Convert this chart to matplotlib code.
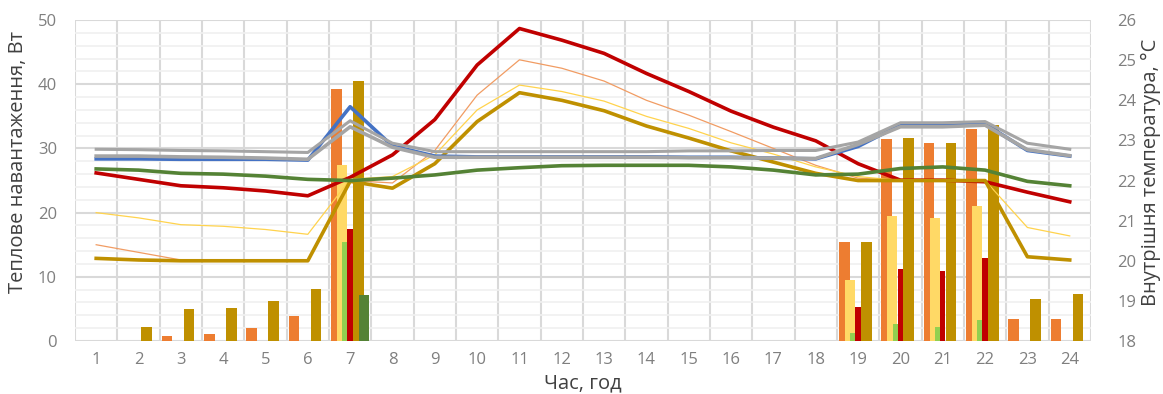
import matplotlib
matplotlib.use('Agg')
import matplotlib.pyplot as plt
import numpy as np

plt.rcParams['font.family'] = ['Open Sans', 'DejaVu Sans']

hours = list(range(1, 25))

# heat loads, W (left axis)
bar_orange = [0, 0, 0.8, 1.1, 2.0, 3.9, 39.2, 0, 0, 0, 0, 0, 0, 0, 0, 0, 0, 0, 15.4, 31.4, 30.8, 33.0, 3.4, 3.5]
bar_yellow = [0, 0, 0, 0, 0, 0, 27.4, 0, 0, 0, 0, 0, 0, 0, 0, 0, 0, 0, 9.5, 19.5, 19.1, 21.0, 0, 0]
bar_lgreen = [0, 0, 0, 0, 0, 0, 15.4, 0, 0, 0, 0, 0, 0, 0, 0, 0, 0, 0, 1.2, 2.6, 2.2, 3.3, 0, 0]
bar_red = [0, 0, 0, 0, 0, 0, 17.4, 0, 0, 0, 0, 0, 0, 0, 0, 0, 0, 0, 5.3, 11.2, 10.9, 12.9, 0, 0]
bar_gold = [0, 2.2, 5.0, 5.2, 6.2, 8.1, 40.5, 0, 0, 0, 0, 0, 0, 0, 0, 0, 0, 0, 15.5, 31.6, 30.9, 33.6, 6.5, 7.3]
bar_dgreen = [0, 0, 0, 0, 0, 0, 7.2, 0, 0, 0, 0, 0, 0, 0, 0, 0, 0, 0, 0, 0, 0, 0, 0, 0]

# internal temperature, C (right axis)
t_red = [22.19, 22.03, 21.87, 21.82, 21.74, 21.62, 22.08, 22.64, 23.52, 24.88, 25.79, 25.50,
         25.17, 24.67, 24.22, 23.73, 23.33, 22.99, 22.42, 22.01, 22.01, 21.97, 21.71, 21.47]
t_orange = [20.40, 20.21, 20.02, 20.0, 20.0, 20.0, 22.0, 21.94, 22.75, 24.13, 25.01, 24.80,
            24.48, 24.00, 23.63, 23.22, 22.80, 22.38, 22.06, 22.0, 22.0, 22.0, 20.10, 20.02]
t_yellow = [21.20, 21.07, 20.90, 20.86, 20.78, 20.66, 22.03, 22.10, 22.64, 23.76, 24.38, 24.22,
            23.98, 23.60, 23.30, 22.94, 22.66, 22.34, 22.10, 22.0, 22.0, 22.0, 20.83, 20.62]
t_gold = [20.06, 20.02, 20.0, 20.0, 20.0, 20.0, 21.98, 21.81, 22.42, 23.47, 24.19, 24.00,
          23.74, 23.36, 23.06, 22.74, 22.46, 22.18, 22.0, 22.0, 22.0, 22.0, 20.10, 20.02]
t_green = [22.29, 22.26, 22.18, 22.16, 22.11, 22.03, 22.00, 22.06, 22.14, 22.26, 22.32, 22.37,
           22.38, 22.38, 22.38, 22.34, 22.26, 22.14, 22.16, 22.30, 22.34, 22.26, 21.98, 21.87]
t_blue = [22.54, 22.54, 22.53, 22.53, 22.53, 22.51, 23.84, 22.86, 22.61, 22.59, 22.59, 22.59,
          22.59, 22.59, 22.58, 22.58, 22.56, 22.54, 22.85, 23.39, 23.38, 23.41, 22.75, 22.61]
t_gray1 = [22.78, 22.77, 22.75, 22.74, 22.72, 22.70, 23.49, 22.93, 22.72, 22.72, 22.72, 22.72,
           22.72, 22.72, 22.74, 22.74, 22.75, 22.75, 22.96, 23.44, 23.44, 23.47, 22.93, 22.78]
t_gray2 = [22.61, 22.61, 22.59, 22.58, 22.56, 22.53, 23.34, 22.83, 22.58, 22.58, 22.58, 22.58,
           22.58, 22.58, 22.57, 22.57, 22.56, 22.55, 22.90, 23.34, 23.34, 23.38, 22.77, 22.62]

x = np.array(hours)

fig = plt.figure(figsize=(11.63, 3.94), dpi=100)
ax = fig.add_axes([0.0645, 0.1345, 0.8735, 0.8145])

ax.bar(x - 0.325, bar_orange, 0.25, color='#ED7D31', zorder=2)
ax.bar(x - 0.19, bar_yellow, 0.24, color='#FFD966', zorder=2)
ax.bar(x - 0.125, bar_lgreen, 0.12, color='#92D050', zorder=2)
ax.bar(x + 0.0, bar_red, 0.13, color='#C00000', zorder=2)
ax.bar(x + 0.195, bar_gold, 0.25, color='#BF9000', zorder=2)
ax.bar(x + 0.325, bar_dgreen, 0.24, color='#548235', zorder=2)

ax.set_xlim(0.5, 24.5)
ax.set_ylim(0, 50)
ax.set_yticks(range(0, 51, 10))
ax.set_yticks(range(0, 51, 2), minor=True)
ax.set_xticks(hours)
ax.set_xticks(np.arange(0.5, 25, 1), minor=True)
ax.grid(which='major', axis='y', color='#d9d9d9', lw=1.5, zorder=0)
ax.grid(which='minor', axis='y', color='#f0f0f0', lw=1.2, zorder=0)
ax.grid(which='minor', axis='x', color='#d9d9d9', lw=1.5, zorder=0)
ax.set_axisbelow(True)
for s in ax.spines.values():
    s.set_visible(False)
ax.tick_params(which='both', length=0)
ax.tick_params(axis='y', pad=13, labelsize=12, labelcolor='#7f7f7f')
ax.tick_params(axis='x', pad=8, labelsize=12, labelcolor='#7f7f7f')
ax.set_xlabel('Час, год', fontsize=14.5, color='#404040')
ax.set_ylabel('Теплове навантаження, Вт', fontsize=14.5, color='#404040')
ax.yaxis.set_label_coords(-0.046, 0.557)

ax2 = ax.twinx()
ax2.plot(x, t_red, color='#C00000', lw=2.6)
ax2.plot(x, t_orange, color='#F19C63', lw=0.9)
ax2.plot(x, t_yellow, color='#FFD34D', lw=0.9)
ax2.plot(x, t_gold, color='#BF9000', lw=2.6)
ax2.plot(x, t_green, color='#548235', lw=2.6)
ax2.plot(x, t_blue, color='#4472C4', lw=2.6)
ax2.plot(x, t_gray2, color='#A5A5A5', lw=2.6)
ax2.plot(x, t_gray1, color='#A5A5A5', lw=2.2)
ax2.set_ylim(18, 26)
ax2.set_yticks(range(18, 27))
for s in ax2.spines.values():
    s.set_visible(False)
ax2.tick_params(length=0, pad=19, labelsize=12, labelcolor='#7f7f7f')
ax2.set_ylabel('Внутрішня температура, °С', fontsize=14.5, color='#404040')
ax2.yaxis.set_label_coords(1.049, 0.527)

fig.savefig('out.png', dpi=100)
